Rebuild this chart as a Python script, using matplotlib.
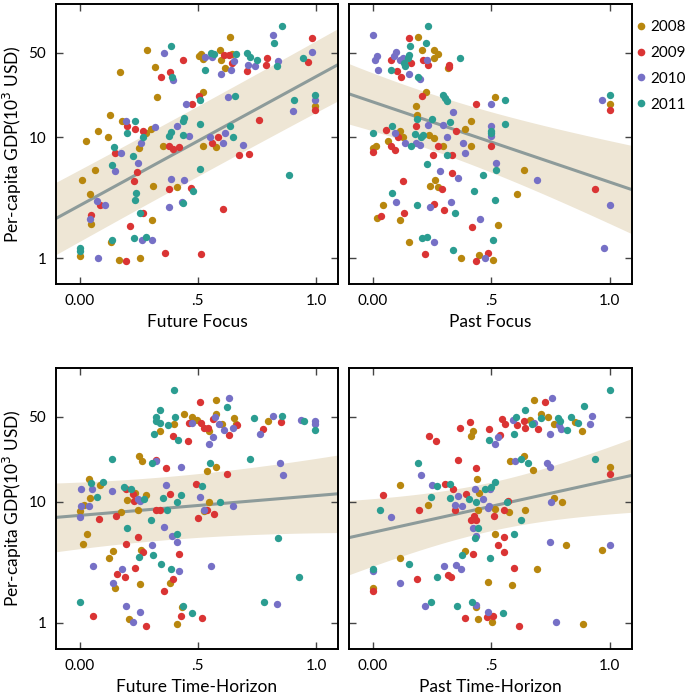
import numpy as np
import matplotlib
matplotlib.use("Agg")
import matplotlib.pyplot as plt
from matplotlib.ticker import FixedLocator, NullLocator

plt.rcParams['font.family'] = ['Lato', 'DejaVu Sans']

years = ["2008", "2009", "2010", "2011"]
colors = ["#B8870E", "#DA3434", "#7670C6", "#2B9D91"]

# ---- Future Focus ----
ff_x_2008 = [0.00, 0.01, 0.027, 0.044, 0.046, 0.066, 0.077, 0.12, 0.128, 0.134, 0.167, 0.169, 0.18, 0.252, 0.255, 0.28, 0.30,
             0.285, 0.308, 0.311, 0.318, 0.326, 0.354, 0.412, 0.506, 0.516, 0.52, 0.515, 0.52, 0.52, 0.577, 0.592, 0.60,
             0.617, 0.634, 0.643, 0.996]
ff_y_2008 = [1.04, 4.4, 9.2, 3.4, 1.9, 5.35, 11.2, 10.1, 15.1, 1.36, 0.97, 34.5, 13.7, 8.1, 1.0, 10.8, 11.6,
             52, 2.06, 3.95, 38, 21.3, 8.45, 3.85, 46.8, 47, 44.5, 49, 23.5, 8.5, 8.3, 52.5, 43.5,
             37.5, 67.8, 49, 18.2]
ff_x_2009 = [0.048, 0.086, 0.149, 0.201, 0.233, 0.243, 0.232, 0.267, 0.27, 0.214, 0.198, 0.343, 0.383, 0.437, 0.36, 0.378,
             0.38, 0.395, 0.42, 0.473, 0.475, 0.505, 0.513, 0.561, 0.585, 0.605, 0.61, 0.632, 0.646, 0.675, 0.709,
             0.717, 0.758, 0.788, 0.793, 0.968, 0.983, 0.997]
ff_y_2009 = [2.26, 2.77, 7.4, 12.4, 11.6, 5.1, 4.35, 2.36, 11.2, 1.83, 0.94, 31.3, 34.8, 43, 1.11, 3.74,
             8.4, 7.9, 8.3, 3.8, 18.7, 21.8, 1.08, 8.9, 10.1, 2.52, 48, 47.5, 41, 7.05, 35,
             7.2, 13.9, 39.8, 45.5, 41.8, 65.6, 16.9]
ff_x_2010 = [0.045, 0.075, 0.107, 0.079, 0.148, 0.173, 0.197, 0.246, 0.26, 0.263, 0.307, 0.318, 0.357, 0.38, 0.388, 0.394,
             0.412, 0.433, 0.44, 0.451, 0.463, 0.532, 0.55, 0.56, 0.60, 0.605, 0.617, 0.629, 0.64, 0.651, 0.692,
             0.713, 0.74, 0.82, 0.838, 0.902, 0.985, 0.997]
ff_y_2010 = [2.12, 2.94, 2.77, 1.0, 5.2, 7.4, 13.5, 6.1, 8.9, 1.42, 1.42, 12.2, 49.3, 2.65, 4.53, 29.9,
             12.4, 2.92, 4.39, 18.7, 10.3, 46, 10, 46.3, 33.5, 9.0, 10.9, 21.3, 36, 42.5, 8.6,
             39.7, 39, 70, 42.8, 16.3, 50.5, 20.4]
ff_x_2011 = [0.0, 0.0, 0.136, 0.139, 0.146, 0.201, 0.226, 0.233, 0.238, 0.235, 0.257, 0.231, 0.27, 0.28, 0.378, 0.387,
             0.385, 0.392, 0.437, 0.437, 0.443, 0.436, 0.48, 0.508, 0.509, 0.51, 0.529, 0.556, 0.567, 0.638, 0.647,
             0.658, 0.66, 0.707, 0.722, 0.752, 0.824, 0.837, 0.855, 0.885, 0.907, 0.946, 0.996]
ff_y_2011 = [1.2, 1.14, 5.9, 1.4, 8.3, 10.8, 7.0, 13.7, 3.45, 3.0, 2.34, 1.47, 10, 1.5, 10.3, 11,
             56.5, 31.6, 10.4, 13.5, 14.3, 2.83, 3.55, 20.4, 5.4, 12.9, 35.8, 50, 49, 12.4, 10,
             22, 49, 50, 46, 43, 60, 39, 83, 4.9, 20.4, 45.5, 22.2]

# ---- Past Focus ----
pf_x_2008 = [0.0, 0.014, 0.018, 0.042, 0.066, 0.113, 0.113, 0.127, 0.155, 0.182, 0.186, 0.19, 0.206, 0.223, 0.239, 0.26,
             0.243, 0.264, 0.277, 0.257, 0.258, 0.274, 0.295, 0.318, 0.374, 0.391, 0.414, 0.414, 0.45, 0.506, 0.514,
             0.528, 0.61, 0.638, 1.0]
pf_y_2008 = [8.1, 8.5, 2.14, 2.76, 9.2, 2.06, 11.2, 10.1, 1.36, 18, 15.1, 67.5, 52.5, 23.8, 10.5, 9.8,
             3.95, 4.4, 3.85, 52.5, 45, 49, 8.4, 37.5, 1.0, 11.7, 13.7, 8.4, 1.06, 0.96, 21.3,
             1.89, 3.38, 5.35, 18.8]
pf_x_2009 = [0.0, 0.035, 0.056, 0.079, 0.096, 0.106, 0.126, 0.133, 0.078, 0.103, 0.121, 0.151, 0.162, 0.212, 0.233, 0.209,
             0.181, 0.322, 0.322, 0.222, 0.26, 0.277, 0.253, 0.291, 0.301, 0.333, 0.336, 0.352, 0.418, 0.435, 0.436,
             0.486, 0.5, 0.936, 1.0]
pf_y_2009 = [7.6, 2.23, 11.5, 8.4, 7.8, 10.1, 4.37, 2.34, 43, 35, 31.3, 65.6, 41, 43, 39.8, 21.8,
             12.4, 39.8, 38, 1.09, 2.8, 8.5, 7.1, 3.75, 2.5, 7.05, 5.05, 11.2, 1.81, 18.6, 0.94,
             1.11, 8.5, 3.7, 16.8]
pf_x_2010 = [0.0, 0.01, 0.018, 0.024, 0.092, 0.099, 0.138, 0.089, 0.1, 0.114, 0.129, 0.153, 0.2, 0.181, 0.198, 0.233,
             0.242, 0.26, 0.282, 0.297, 0.315, 0.332, 0.339, 0.359, 0.381, 0.39, 0.452, 0.473, 0.5, 0.5, 0.5,
             0.518, 0.694, 0.967, 0.975, 1.0, 0.23]
pf_y_2010 = [70, 43, 46.5, 35.8, 10.8, 2.9, 9.0, 46.8, 50.5, 43.5, 45.3, 33.5, 30, 9.0, 8.6, 12.6,
             2.65, 1.36, 5.2, 12.6, 10, 2.92, 16.2, 4.56, 8.9, 7.4, 2.1, 1.0, 18.7, 12.3, 10.3,
             6.1, 4.4, 20.3, 1.21, 2.76, 43]
pf_x_2011 = [0.0, 0.08, 0.082, 0.075, 0.157, 0.131, 0.138, 0.15, 0.153, 0.186, 0.161, 0.177, 0.186, 0.191, 0.202, 0.212,
             0.208, 0.227, 0.223, 0.229, 0.233, 0.25, 0.295, 0.305, 0.315, 0.315, 0.325, 0.338, 0.346, 0.366, 0.427,
             0.466, 0.497, 0.497, 0.506, 0.514, 0.521, 0.556, 0.558, 1.0]
pf_y_2011 = [10.8, 12.3, 3.45, 35.8, 56.5, 41, 39, 45.5, 48, 2.74, 8.4, 10.7, 14, 31.6, 10, 10.5,
             1.47, 1.49, 60.4, 6.0, 83, 14.2, 22.2, 21, 20, 7.05, 13.3, 1.17, 2.34, 45.5, 3.55,
             4.9, 11.3, 10.9, 1.40, 3.0, 5.35, 20.4, 12.9, 22.2]

# ---- Future Time-Horizon ----
fh_x_2008 = [0.0, 0.02, 0.013, 0.031, 0.038, 0.042, 0.086, 0.125, 0.143, 0.148, 0.173, 0.201, 0.207, 0.235, 0.245, 0.252,
             0.263, 0.256, 0.26, 0.281, 0.339, 0.384, 0.40, 0.413, 0.433, 0.443, 0.474, 0.527, 0.54, 0.549, 0.547,
             0.577, 0.577, 0.575, 0.602, 0.651, 0.661, 0.796, 0.497]
fh_y_2008 = [8.4, 9.3, 4.45, 5.4, 15.3, 10.7, 13.6, 3.4, 3.9, 1.93, 8.2, 10.3, 1.08, 11.8, 8.6, 23.8,
             21.6, 2.08, 4.0, 11.3, 38.4, 2.15, 43.5, 0.98, 1.35, 53, 50, 8.3, 18, 38, 9.9,
             68.7, 53, 19.2, 43.9, 49, 43.5, 46.5, 47]
fh_x_2009 = [0.058, 0.082, 0.152, 0.158, 0.194, 0.196, 0.195, 0.225, 0.229, 0.235, 0.248, 0.266, 0.28, 0.321, 0.325, 0.342,
             0.357, 0.367, 0.384, 0.394, 0.397, 0.419, 0.428, 0.459, 0.461, 0.492, 0.499, 0.511, 0.515, 0.518, 0.527,
             0.541, 0.539, 0.568, 0.564, 0.622, 0.632, 0.664, 0.774, 0.852]
fh_y_2009 = [1.14, 7.2, 7.6, 2.55, 2.38, 4.45, 12.7, 11.5, 10.1, 2.83, 5.1, 3.85, 0.95, 21.9, 8.6, 8.45,
             1.84, 19, 11.5, 35, 2.3, 3.7, 1.14, 31.7, 44, 14, 7.3, 65.5, 44, 1.1, 40.6,
             40.2, 8.45, 7.85, 47.5, 17, 35.2, 42.5, 39.4, 45]
fh_x_2010 = [0.0, 0.004, 0.006, 0.038, 0.052, 0.056, 0.136, 0.143, 0.179, 0.198, 0.226, 0.255, 0.246, 0.257, 0.308, 0.323,
             0.359, 0.367, 0.39, 0.41, 0.419, 0.428, 0.474, 0.511, 0.527, 0.557, 0.547, 0.564, 0.571, 0.588, 0.609,
             0.633, 0.647, 0.65, 0.764, 0.82, 0.847, 0.862, 0.834, 0.937, 0.997, 0.997]
fh_y_2010 = [7.45, 9.2, 12.8, 9.2, 12.7, 2.97, 12.3, 2.15, 2.8, 1.37, 1.01, 1.22, 10.4, 10.1, 4.42, 21.5,
             6.2, 13.6, 5.2, 4.6, 2.68, 19.2, 44.5, 11.0, 8.6, 2.95, 29.9, 33.8, 49.3, 43.9, 39,
             71, 40.4, 9.2, 36.3, 51, 20.6, 16.4, 1.43, 46.8, 46, 43.5]
fh_x_2011 = [0.0, 0.046, 0.072, 0.098, 0.139, 0.186, 0.201, 0.218, 0.25, 0.274, 0.304, 0.308, 0.311, 0.314, 0.321, 0.321,
             0.342, 0.342, 0.346, 0.352, 0.37, 0.374, 0.385, 0.401, 0.402, 0.412, 0.416, 0.412, 0.429, 0.436, 0.475,
             0.518, 0.55, 0.595, 0.624, 0.719, 0.738, 0.78, 0.838, 0.857, 0.93, 0.949, 0.997]
fh_y_2011 = [1.49, 14.1, 11, 14.4, 22.3, 13.1, 6.0, 12.7, 3.5, 10.4, 7.0, 20.6, 3.6, 36.3, 49.5, 46,
             56.7, 44.5, 3.05, 10.8, 8.45, 43, 2.8, 83, 49.5, 5.4, 31.9, 9.9, 11.4, 1.39, 1.2,
             13.4, 20.6, 10, 60.6, 22.5, 48.4, 1.5, 5.0, 50.3, 2.38, 46, 39]

# ---- Past Time-Horizon ----
ph_x_2008 = [0.0, 0.117, 0.113, 0.232, 0.39, 0.414, 0.424, 0.44, 0.442, 0.444, 0.434, 0.45, 0.486, 0.501, 0.514, 0.516,
             0.573, 0.58, 0.586, 0.638, 0.643, 0.664, 0.674, 0.681, 0.691, 0.71, 0.74, 0.764, 0.8, 0.816, 0.884,
             0.887, 0.965, 1.0, 0.764, 0.852]
ph_y_2008 = [1.93, 13.8, 3.4, 9.3, 3.93, 34.5, 38.3, 15.3, 8.45, 1.08, 1.36, 11.7, 2.17, 1.02, 5.4, 8.7,
             8.2, 21.6, 2.06, 23.6, 8.45, 47, 18.3, 68.7, 2.78, 53, 49.3, 10.7, 9.9, 4.42, 38,
             0.98, 3.98, 19.2, 43.5, 45.5]
ph_x_2009 = [0.0, 0.044, 0.186, 0.196, 0.239, 0.267, 0.304, 0.318, 0.332, 0.339, 0.345, 0.359, 0.367, 0.387, 0.395, 0.408,
             0.414, 0.425, 0.434, 0.428, 0.421, 0.434, 0.48, 0.506, 0.49, 0.51, 0.528, 0.535, 0.544, 0.552, 0.552,
             0.555, 0.558, 0.569, 0.596, 0.607, 0.616, 0.638, 0.644, 0.698, 0.726, 1.0]
ph_y_2009 = [1.83, 11.3, 2.29, 8.45, 35, 31.7, 14, 2.5, 2.38, 12.6, 8.6, 22, 40.6, 1.1, 11.6, 45.2,
             7.0, 7.15, 7.0, 7.6, 3.72, 19, 1.13, 1.14, 39.6, 7.6, 4.4, 35.2, 47.8, 8.6, 5.1,
             3.85, 43.6, 10.1, 2.83, 42.5, 0.95, 46, 40.6, 39.4, 65.5, 17]
ph_x_2010 = [0.0, 0.078, 0.114, 0.202, 0.22, 0.249, 0.299, 0.347, 0.353, 0.359, 0.376, 0.374, 0.424, 0.431, 0.435, 0.435,
             0.466, 0.484, 0.486, 0.49, 0.494, 0.514, 0.527, 0.593, 0.599, 0.678, 0.734, 0.748, 0.747, 0.746, 0.751,
             0.756, 0.774, 0.785, 0.794, 0.917, 0.924, 1.0]
ph_y_2010 = [2.68, 7.5, 2.13, 16.4, 1.37, 13.6, 2.95, 9.3, 3.0, 11.1, 9.2, 2.8, 6.1, 12.7, 5.2, 1.41,
             10.4, 8.8, 1.22, 9.2, 12.8, 29.8, 33.8, 46.8, 21.4, 44.5, 20.9, 19.1, 36.3, 4.6, 10,
             71, 1.01, 42.5, 39.6, 43.2, 50.8, 4.42]
ph_x_2011 = [0.0, 0.031, 0.154, 0.189, 0.244, 0.246, 0.27, 0.271, 0.326, 0.326, 0.357, 0.377, 0.405, 0.419, 0.432, 0.442,
             0.436, 0.473, 0.49, 0.496, 0.499, 0.514, 0.551, 0.566, 0.595, 0.596, 0.605, 0.623, 0.627, 0.64, 0.654,
             0.671, 0.71, 0.781, 0.788, 0.818, 0.836, 0.867, 0.89, 0.939, 1.0]
ph_y_2011 = [2.78, 8.45, 3.05, 20.6, 11.0, 1.49, 13.4, 2.38, 14, 10.8, 1.39, 3.6, 10.5, 1.5, 5.0, 6.0,
             10, 12.7, 31.9, 3.45, 13.2, 14.4, 1.2, 10, 5.45, 36, 50, 22.3, 7.0, 57, 20.6,
             43.5, 48.4, 49, 46, 39, 49.5, 44.5, 61, 22.5, 83]

panel_labels = ["Future Focus", "Past Focus", "Future Time-Horizon", "Past Time-Horizon"]
panel_x = [[ff_x_2008, ff_x_2009, ff_x_2010, ff_x_2011],
           [pf_x_2008, pf_x_2009, pf_x_2010, pf_x_2011],
           [fh_x_2008, fh_x_2009, fh_x_2010, fh_x_2011],
           [ph_x_2008, ph_x_2009, ph_x_2010, ph_x_2011]]
panel_y = [[ff_y_2008, ff_y_2009, ff_y_2010, ff_y_2011],
           [pf_y_2008, pf_y_2009, pf_y_2010, pf_y_2011],
           [fh_y_2008, fh_y_2009, fh_y_2010, fh_y_2011],
           [ph_y_2008, ph_y_2009, ph_y_2010, ph_y_2011]]

# fitted model (log10 GDP): intercept, slope, CI half-width params (h0, k, x centre)
fit_a = [0.434, 1.291, 0.886, 0.746]
fit_b = [1.066, -0.664, 0.163, 0.430]
ci_h0 = [0.29, 0.231, 0.26, 0.20]
ci_k = [0.12, 0.317, 0.25, 0.386]
ci_xm = [0.5, 0.2, 0.35, 0.5]

fig = plt.figure(figsize=(6.89, 6.94), dpi=100)
W, H = 689.0, 694.0
boxes = [(56, 4, 338, 284), (349, 4, 632, 284), (56, 368, 338, 649), (349, 368, 632, 649)]

for i in range(4):
    l, t, r, b = boxes[i]
    ax = fig.add_axes([l / W, 1 - b / H, (r - l) / W, (b - t) / H])
    xs = np.linspace(-0.1, 1.1, 200)
    mid = fit_a[i] + fit_b[i] * xs
    half = np.sqrt(ci_h0[i] ** 2 + ci_k[i] ** 2 * (xs - ci_xm[i]) ** 2)
    ax.fill_between(xs, 10 ** (mid - half), 10 ** (mid + half), color="#EEE6D5", lw=0, zorder=1)
    ax.plot(xs, 10 ** mid, color="#8D9B9A", lw=2.2, zorder=2)
    for j in range(4):
        ax.scatter(panel_x[i][j], panel_y[i][j], s=28, color=colors[j], lw=0, zorder=3, label=years[j])
    ax.set_yscale("log")
    ax.set_xlim(-0.1, 1.093)
    ax.set_ylim(0.61, 126)
    ax.xaxis.set_major_locator(FixedLocator([0, 0.5, 1.0]))
    ax.set_xticklabels(["0.00", ".5", "1.0"])
    ax.yaxis.set_major_locator(FixedLocator([1, 10, 50]))
    ax.yaxis.set_minor_locator(NullLocator())
    ax.tick_params(direction="in", length=5, width=1, top=True, right=True, labelsize=11, pad=7, color="#444444")
    if i % 2 == 0:
        ax.set_yticklabels(["1", "10", "50"])
        ax.set_ylabel("Per-capita GDP(10$^3$ USD)", fontsize=12.5, va="center")
        ax.yaxis.set_label_coords(-0.155, 0.5)
    else:
        ax.set_yticklabels([])
    ax.set_xlabel(panel_labels[i], fontsize=12.5, va="center")
    ax.xaxis.set_label_coords(0.5, -0.135)
    for sp in ax.spines.values():
        sp.set_linewidth(1.4)

handles = [plt.Line2D([], [], ls="", marker="o", ms=5.5, mec="none", mfc=c) for c in colors]
fig.legend(handles, years, loc="upper left", bbox_to_anchor=(637 / W, 1 - 20 / H), frameon=False,
           handlelength=0.55, handletextpad=0.3, labelspacing=0.78, fontsize=11, borderpad=0, borderaxespad=0)

fig.savefig("out.png", dpi=100)
